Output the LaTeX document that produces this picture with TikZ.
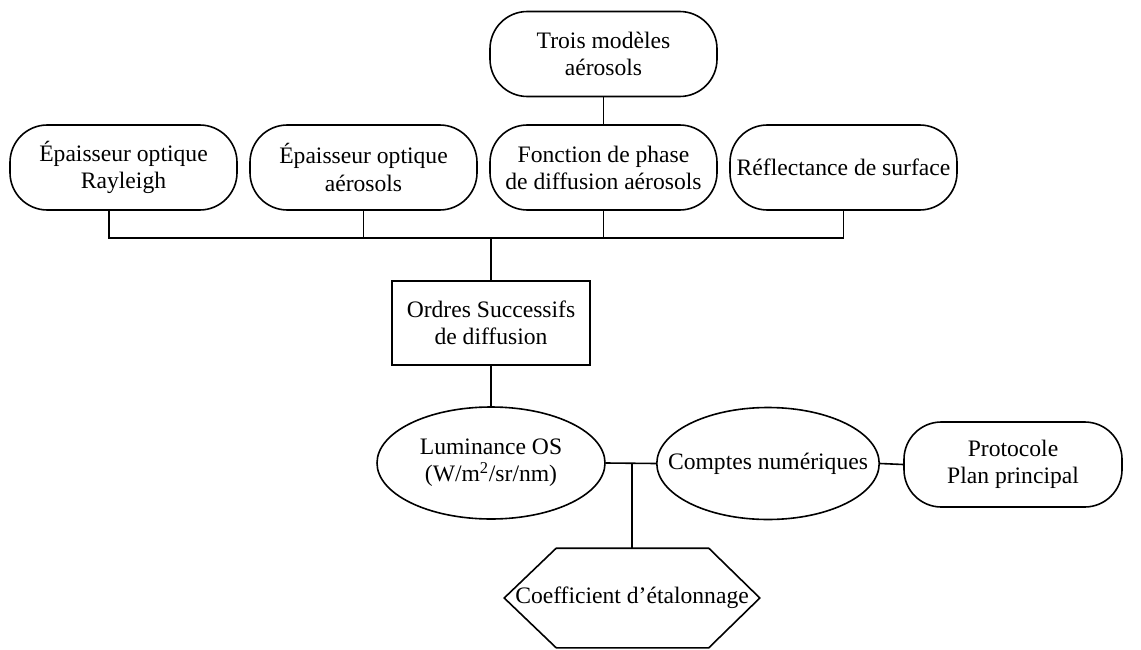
\documentclass[tikz,border=0pt]{standalone}
\usepackage{fontspec}
\setmainfont{Liberation Serif}
\usetikzlibrary{shapes.geometric}
\begin{document}
\begin{tikzpicture}[x=0.75pt,y=-0.75pt,line width=1.2pt,
  every node/.style={font=\fontsize{17.7pt}{20.3pt}\selectfont,align=center,inner sep=0pt},
  rbox/.style={draw,rounded corners=28pt,minimum width=170.25pt,minimum height=63.75pt},
  pbox/.style={draw,rounded corners=28pt,minimum width=163.5pt,minimum height=63.75pt},
  sbox/.style={draw,minimum width=148.5pt,minimum height=63pt},
  ell/.style={draw,ellipse,inner xsep=-16pt,minimum height=84pt},
  hexbox/.style={minimum width=190.5pt,minimum height=73.5pt}]
\useasboundingbox (0,0) rectangle (1141,649);
\node[rbox] (trois) at (603.5,54) {Trois modèles\\aérosols};
\node[rbox] (ray) at (123.5,167.5) {Épaisseur optique\\Rayleigh};
\node[rbox] (aer) at (363.5,167.5) {Épaisseur optique\\aérosols};
\node[rbox] (fonc) at (603.5,167.5) {Fonction de phase\\de diffusion aérosols};
\node[rbox] (refl) at (843.5,167.5) {Réflectance de surface};
\node[sbox] (os) at (491,323) {Ordres Successifs\\de diffusion};
\node[ell,minimum width=171pt] (lum) at (491,463) {Luminance OS\\(W/m\textsuperscript{2}/sr/nm)};
\node[ell,minimum width=163.5pt] (cpt) at (768,463.5) {Comptes numériques};
\node[pbox] (proto) at (1013,464.5) {Protocole\\Plan principal};
\node[hexbox] (hex) at (632,598) {Coefficient d’étalonnage};
\draw (hex.west) -- ([xshift=39pt]hex.north west) -- ([xshift=-38.25pt]hex.north east)
  -- (hex.east) -- ([xshift=-38.25pt]hex.south east) -- ([xshift=39pt]hex.south west) -- cycle;
\coordinate (bus) at (491,238);
\coordinate (j) at (632,463.5);
\draw (trois) -- (fonc);
\draw ([xshift=-10.9pt]ray.south) |- (bus);
\draw (aer.south) |- (bus);
\draw (fonc.south) |- (bus);
\draw (refl.south) |- (bus);
\draw (bus) -- (os.north);
\draw (os.south) -- (lum.north);
\draw (lum.east) -- (cpt.west);
\draw (j) -- (hex.north);
\draw (cpt.east) -- (proto.west);
\end{tikzpicture}
\end{document}
